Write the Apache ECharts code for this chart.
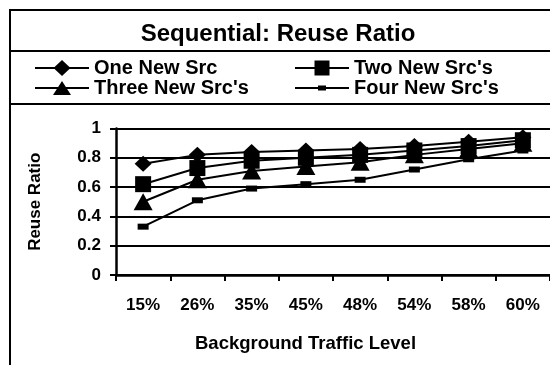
<!DOCTYPE html>
<html>
<head>
<meta charset="utf-8">
<script src="https://cdn.jsdelivr.net/npm/echarts@6/dist/echarts.min.js"></script>
<style>
html,body{margin:0;padding:0;background:#fff;}
#c{width:550px;height:365px;}
</style>
</head>
<body>
<div id="c"></div>
<script>
var categories = ['15%', '26%', '35%', '45%', '48%', '54%', '58%', '60%'];
var oneNewSrc   = [0.76, 0.82, 0.84, 0.85, 0.86, 0.88, 0.91, 0.94];
var twoNewSrc   = [0.62, 0.73, 0.78, 0.80, 0.82, 0.85, 0.88, 0.92];
var threeNewSrc = [0.50, 0.65, 0.71, 0.74, 0.77, 0.82, 0.86, 0.90];
var fourNewSrc  = [0.33, 0.51, 0.59, 0.62, 0.65, 0.72, 0.79, 0.85];
var seriesNames = ['One New Src', "Two New Src's", "Three New Src's", "Four New Src's"];
var yTicks = [0, 0.2, 0.4, 0.6, 0.8, 1];

var FONT = 'Arial, "Liberation Sans", sans-serif';
var chart = echarts.init(document.getElementById('c'), null, {renderer: 'canvas'});

function mkSeries(name, data, symbol, size) {
  return {
    name: name, type: 'line', data: data,
    symbol: symbol, symbolSize: size,
    lineStyle: {color: '#000', width: 2},
    itemStyle: {color: '#000', borderWidth: 0},
    emphasis: {disabled: true},
    animation: false, z: 3
  };
}

// legend icons (54 x 16 box): line through the middle plus the marker
var LINE = 'M0,7 L54,7 L54,9 L0,9 Z ';
var CORNERS = 'M0,0 L0.01,0 L0,0.01 Z M54,16 L53.99,16 L54,15.99 Z ';
var icons = {
  diamond: 'path://' + LINE + 'M18.5,8 L27,0 L35.5,8 L27,16 Z',
  square: 'path://' + LINE + 'M19.5,0.5 L34.5,0.5 L34.5,15.5 L19.5,15.5 Z',
  triangle: 'path://' + LINE + CORNERS + 'M18,15 L27,1 L36,15 Z',
  small: 'path://' + LINE + CORNERS + 'M23,5.5 L31,5.5 L31,10.5 L23,10.5 Z'
};

var legendText = {color: '#000', fontSize: 20, fontWeight: 'bold', fontFamily: FONT, lineHeight: 20};

chart.setOption({
  backgroundColor: '#fff',
  animation: false,
  title: {
    text: 'Sequential: Reuse Ratio',
    left: 273, top: 17, textAlign: 'center',
    textStyle: {color: '#000', fontSize: 24, fontWeight: 'bold', fontFamily: FONT}
  },
  legend: [{
    data: [{name: seriesNames[0], icon: icons.diamond}, {name: seriesNames[2], icon: icons.triangle}],
    orient: 'vertical', left: 30, top: 53,
    itemWidth: 54, itemHeight: 16, itemGap: 0,
    textStyle: legendText, selectedMode: false
  }, {
    data: [{name: seriesNames[1], icon: icons.square}, {name: seriesNames[3], icon: icons.small}],
    orient: 'vertical', left: 290, top: 53,
    itemWidth: 54, itemHeight: 16, itemGap: 0,
    textStyle: legendText, selectedMode: false
  }],
  grid: {left: 116, top: 128.5, width: 439, height: 146.5, containLabel: false},
  xAxis: {
    type: 'category', data: categories, boundaryGap: true,
    name: 'Background Traffic Level', nameLocation: 'middle', nameGap: 59,
    nameTextStyle: {color: '#000', fontSize: 18.5, fontWeight: 'bold', fontFamily: FONT, padding: [0, 55, 0, 0]},
    axisLine: {lineStyle: {color: '#000', width: 2.5}},
    axisTick: {show: true, length: 6, lineStyle: {color: '#000', width: 2}},
    axisLabel: {color: '#000', fontSize: 17, fontWeight: 'bold', fontFamily: FONT, margin: 22, interval: 0},
    splitLine: {show: false}
  },
  yAxis: {
    type: 'value', min: yTicks[0], max: yTicks[yTicks.length - 1], interval: 0.2,
    name: 'Reuse Ratio', nameLocation: 'middle', nameGap: 72, nameRotate: 90,
    nameTextStyle: {color: '#000', fontSize: 17, fontWeight: 'bold', fontFamily: FONT},
    axisLine: {show: true, lineStyle: {color: '#000', width: 2.5}},
    axisTick: {show: true, length: 6, lineStyle: {color: '#000', width: 2}},
    axisLabel: {color: '#000', fontSize: 17, fontWeight: 'bold', fontFamily: FONT, margin: 15},
    splitLine: {show: true, lineStyle: {color: '#000', width: 2}}
  },
  series: [
    mkSeries(seriesNames[0], oneNewSrc, 'diamond', [17, 16]),
    mkSeries(seriesNames[1], twoNewSrc, 'rect', [16, 16]),
    mkSeries(seriesNames[2], threeNewSrc, 'triangle', [19, 17]),
    mkSeries(seriesNames[3], fourNewSrc, 'rect', [11, 6])
  ],
  graphic: [
    {type: 'rect', shape: {x: 10, y: 10, width: 600, height: 400}, style: {fill: null, stroke: '#000', lineWidth: 2}, silent: true},
    {type: 'line', shape: {x1: 10, y1: 51, x2: 600, y2: 51}, style: {stroke: '#000', lineWidth: 2}, silent: true},
    {type: 'line', shape: {x1: 10, y1: 104, x2: 600, y2: 104}, style: {stroke: '#000', lineWidth: 2}, silent: true}
  ]
});
</script>
</body>
</html>
